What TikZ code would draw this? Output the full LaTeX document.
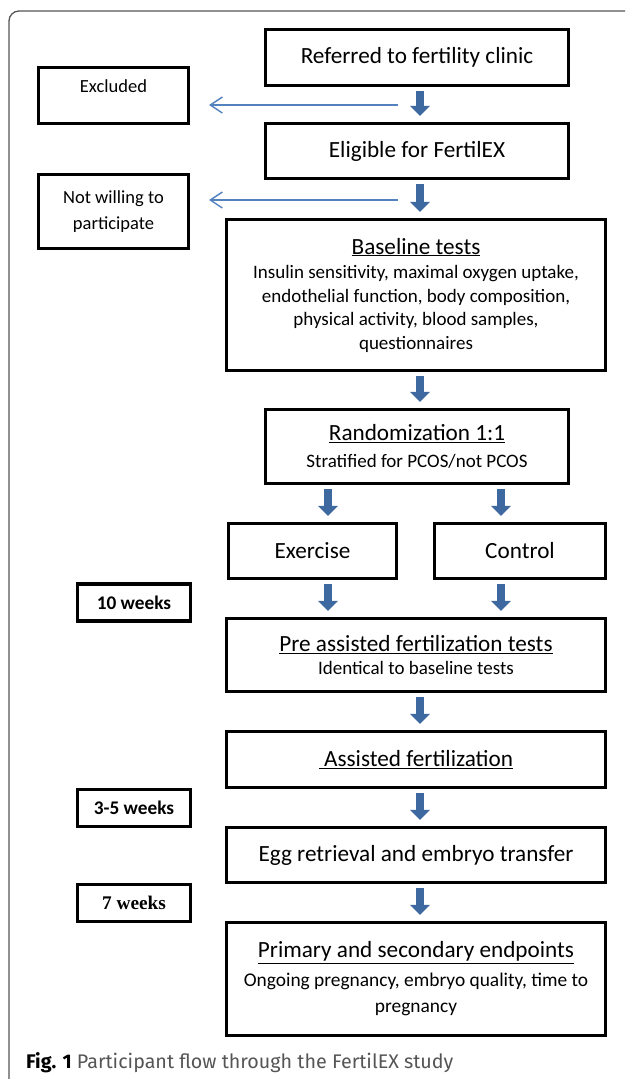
\documentclass[tikz,border=0pt]{standalone}
\usepackage{fontspec}
\setmainfont{Carlito}
\newfontfamily\capfont{Fira Sans}
\newfontfamily\serffont{Liberation Serif}
\usetikzlibrary{arrows.meta}
\definecolor{blockblue}{RGB}{62,104,160}
\definecolor{lineblue}{RGB}{84,130,190}
\definecolor{framegray}{RGB}{85,85,85}

\begin{document}
\begin{tikzpicture}[x=1pt, y=-1pt,
    box/.style={draw, line width=3.2pt, align=center, inner sep=2pt, font=\fontsize{19}{23.5}\selectfont},
    bigtxt/.style={font=\fontsize{23.2}{26}\selectfont},
    sidebox/.style={box, minimum width=150, minimum height=56, font=\fontsize{18.5}{26}\selectfont},
    weekbox/.style={box, minimum width=113, minimum height=37, font=\fontsize{19.3}{22}\selectfont\bfseries},
    blockarrow/.style={blockblue, line width=8pt, -{Triangle[length=10pt, width=20pt, line width=0pt]}, shorten <=4pt, shorten >=6pt},
    thinarrow/.style={lineblue, line width=1.4pt, -{Straight Barb[length=12pt, width=16pt]}}]
    \useasboundingbox (0,0) rectangle (625,1079);
    
    % 1. 外框
    \draw[framegray, line width=1.3pt, rounded corners=10pt] (9,1079) -- (9,11) -- (625,11);
    
    % 2. 主流程框
    \node[box, bigtxt, minimum width=303, minimum height=56] (ref) at (417,57.5) {Referred to fertility clinic};
    \node[box, bigtxt, minimum width=303, minimum height=55] (elig) at (417,151) {Eligible for FertilEX};
    \node[box, minimum width=379, minimum height=151] (base) at (416,295)
        {{\fontsize{23.2}{26}\selectfont\underline{Baseline tests}}\\[1pt]
         Insulin sensitivity, maximal oxygen uptake,\\
         endothelial function, body composition,\\
         physical activity, blood samples,\\
         questionnaires};
    \node[box, minimum width=303, minimum height=74] (rand) at (417,446.5)
        {{\fontsize{23.2}{26}\selectfont\underline{Randomization 1:1}}\\[4pt] Stratified for PCOS/not PCOS};
    \node[box, bigtxt, minimum width=168, minimum height=55] (ex) at (312.5,551) {Exercise};
    \node[box, bigtxt, minimum width=171, minimum height=55] (ctrl) at (520,551) {Control};
    \node[box, minimum width=379, minimum height=73] (pre) at (416,655)
        {{\fontsize{23.2}{26}\selectfont\underline{Pre assisted fertilization tests}}\\ Identical to baseline tests};
    \node[box, bigtxt, minimum width=379, minimum height=56] (asf) at (416,759.5) {\underline{\ Assisted fertilization}};
    \node[box, bigtxt, minimum width=379, minimum height=55] (egg) at (416,855) {Egg retrieval and embryo transfer};
    \node[box, minimum width=379, minimum height=113, font=\fontsize{19.4}{26}\selectfont] (prim) at (416,979)
        {{\fontsize{23.2}{26}\selectfont\underline{Primary and secondary endpoints}}\\[3pt]
         Ongoing pregnancy, embryo quality, time to\\ pregnancy};
    
    % 3. 左侧框
    \node[sidebox, text depth=18pt] (excl) at (113.5,95.5) {Excluded};
    \node[sidebox, minimum height=74] (notw) at (113.5,211.5) {Not willing to\\participate};
    \node[weekbox] (w10) at (134,602.5) {10 weeks};
    \node[weekbox] (w35) at (134,808) {3-5 weeks};
    \node[weekbox, font=\fontsize{19.3}{22}\selectfont\serffont\bfseries] (w7) at (134,903) {7 weeks};
    
    % 4. 箭头
    \coordinate (mid) at (420,0);
    \coordinate (exa) at (328,0);
    \coordinate (cta) at (501,0);
    \draw[blockarrow] (ref.south -| mid) -- (elig.north -| mid);
    \draw[blockarrow] (elig.south -| mid) -- (base.north -| mid);
    \draw[blockarrow] (base.south -| mid) -- (rand.north -| mid);
    \draw[blockarrow] (rand.south -| exa) -- (ex.north -| exa);
    \draw[blockarrow] (rand.south -| cta) -- (ctrl.north -| cta);
    \draw[blockarrow] (ex.south -| exa) -- (pre.north -| exa);
    \draw[blockarrow] (ctrl.south -| cta) -- (pre.north -| cta);
    \draw[blockarrow] (pre.south -| mid) -- (asf.north -| mid);
    \draw[blockarrow] (asf.south -| mid) -- (egg.north -| mid);
    \draw[blockarrow] (egg.south -| mid) -- (prim.north -| mid);
    
    \coordinate (t1) at (398,105);
    \coordinate (t2) at (398,200);
    \draw[thinarrow] (t1) -- ([xshift=19pt]t1 -| excl.east);
    \draw[thinarrow] (t2) -- ([xshift=19pt]t2 -| notw.east);
    
    % 5. 图注
    \node[anchor=west, inner sep=0pt, font=\capfont\fontsize{19.7}{22}\selectfont, text=framegray] (cap) at (26,1063)
        {\textcolor{black}{\textbf{Fig. 1}} Participant flow through the FertilEX study};
\end{tikzpicture}
\end{document}
